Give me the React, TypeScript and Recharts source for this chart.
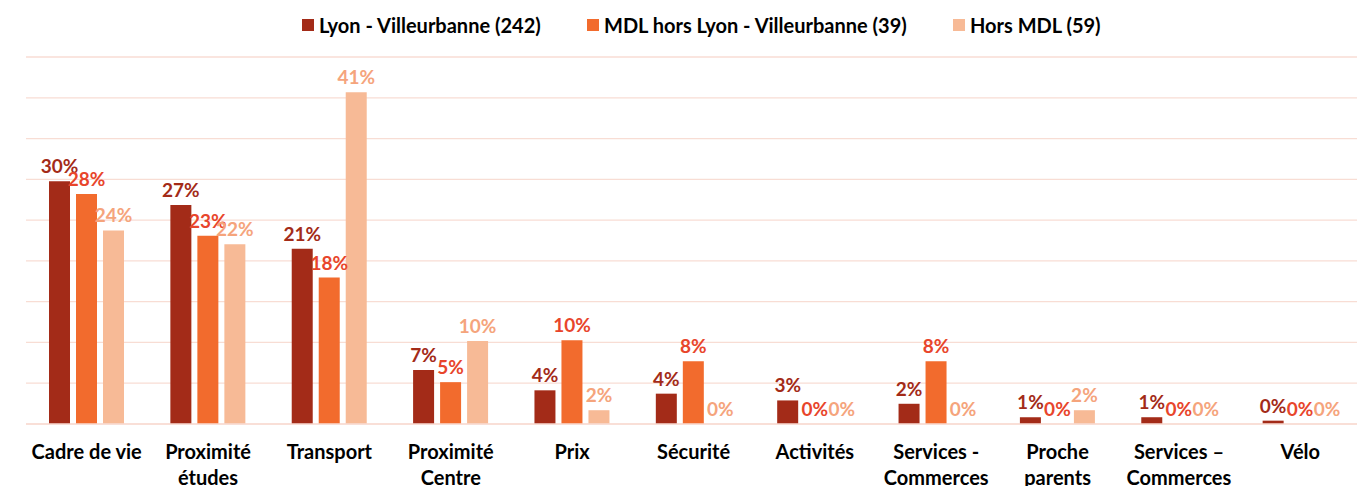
import React from "react";
import {
  BarChart,
  Bar,
  XAxis,
  YAxis,
  CartesianGrid,
  Legend,
} from "recharts";

const categories = [
  "Cadre de vie",
  "Proximité\nétudes",
  "Transport",
  "Proximité\nCentre",
  "Prix",
  "Sécurité",
  "Activités",
  "Services -\nCommerces",
  "Proche\nparents",
  "Services –\nCommerces",
  "Vélo",
];

// share of respondents, in %
const lyonValues = [29.75, 26.86, 21.49, 6.61, 4.13, 3.72, 2.89, 2.48, 0.83, 0.83, 0.41];
const mdlValues = [28.21, 23.08, 17.95, 5.13, 10.26, 7.69, 0, 7.69, 0, 0, 0];
const horsValues = [23.73, 22.03, 40.68, 10.17, 1.69, 0, 0, 0, 1.69, 0, 0];

const seriesNames = [
  "Lyon - Villeurbanne (242)",
  "MDL hors Lyon - Villeurbanne (39)",
  "Hors MDL (59)",
];

const yTicks = [0, 5, 10, 15, 20, 25, 30, 35, 40, 45];

const FONT = "Lato, 'Open Sans', sans-serif";
const barColors = ["#A32B18", "#F26B2D", "#F7BA96"];
const labelColors = ["#A32B18", "#E8452B", "#F5A47C"];
const legendLefts = [302, 587, 953];

const data = categories.map((name, i) => ({
  name,
  lyon: lyonValues[i],
  mdl: mdlValues[i],
  hors: horsValues[i],
}));

function CategoryTick(props: any) {
  const { x, y, payload } = props;
  const lines = String(payload.value).split("\n");
  return (
    <text
      x={x}
      y={y}
      textAnchor="middle"
      fill="#000"
      fontFamily={FONT}
      fontWeight={700}
      fontSize={20}
    >
      {lines.map((line, i) => (
        <tspan key={i} x={x} dy={i === 0 ? 35 : 26}>
          {line}
        </tspan>
      ))}
    </text>
  );
}

const makeLabel = (color: string) => (props: any) => {
  const { x, y, width, value } = props;
  if (value == null) return null;
  return (
    <text
      x={Number(x) + Number(width) / 2}
      y={Number(y) - 8}
      textAnchor="middle"
      fill={color}
      fontFamily={FONT}
      fontWeight={700}
      fontSize={19}
    >
      {`${Math.round(Number(value))}%`}
    </text>
  );
};

function LegendContent() {
  return (
    <div
      style={{
        position: "relative",
        height: 24,
        fontFamily: FONT,
        fontWeight: 700,
        fontSize: 20,
        color: "#000",
      }}
    >
      {seriesNames.map((n, i) => (
        <div
          key={n}
          style={{
            position: "absolute",
            left: legendLefts[i],
            top: 0,
            height: 24,
            display: "flex",
            alignItems: "center",
            whiteSpace: "nowrap",
          }}
        >
          <span
            style={{
              width: 12,
              height: 12,
              background: barColors[i],
              marginRight: 5,
              display: "inline-block",
            }}
          />
          <span>{n}</span>
        </div>
      ))}
    </div>
  );
}

export default function App() {
  const keys = ["lyon", "mdl", "hors"];
  return (
    <div
      style={{
        position: "absolute",
        left: 0,
        top: 0,
        width: 1357,
        height: 486,
        overflow: "hidden",
        background: "#fff",
      }}
    >
      <BarChart
        width={1362}
        height={486}
        data={data}
        margin={{ top: 33, right: 1, left: 26, bottom: 0 }}
        barSize={21}
        barGap={6}
      >
        <CartesianGrid vertical={false} stroke="#F8DDD4" strokeWidth={1.3} />
        <XAxis
          dataKey="name"
          interval={0}
          height={62}
          tickLine={false}
          tickSize={0}
          tickMargin={0}
          axisLine={{ stroke: "#F8DDD4", strokeWidth: 1.3 }}
          tick={<CategoryTick />}
        />
        <YAxis hide domain={[0, 45]} ticks={yTicks} />
        <Legend
          verticalAlign="top"
          content={<LegendContent />}
          wrapperStyle={{ top: 13, left: 0, width: 1357 }}
        />
        {keys.map((k, i) => (
          <Bar
            key={k}
            dataKey={k}
            name={seriesNames[i]}
            fill={barColors[i]}
            minPointSize={(v: any) => (Number(v) === 0 ? 0.01 : 0)}
            label={makeLabel(labelColors[i])}
            isAnimationActive={false}
          />
        ))}
      </BarChart>
    </div>
  );
}
